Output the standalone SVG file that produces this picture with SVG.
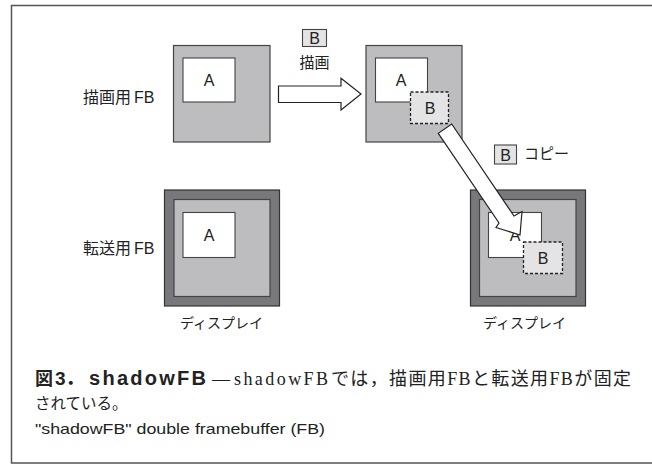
<svg xmlns="http://www.w3.org/2000/svg" width="652" height="468" viewBox="0 0 652 468">
<style>
.bg{fill:#ffffff}
.frame{fill:none;stroke:#555;stroke-width:1.5}
.fb{fill:#bdbdbf;stroke:#444;stroke-width:1.2}
.disp{fill:#78787a;stroke:#333;stroke-width:1.2}
.win{fill:#ffffff;stroke:#444;stroke-width:1.1}
.dash{fill:#e4e4e4;stroke:#222;stroke-width:1.3;stroke-dasharray:3 2}
.tag{fill:#e4e4e4;stroke:#444;stroke-width:1.1}
.arrow{fill:#ffffff;stroke:#222;stroke-width:1.2;stroke-linejoin:miter}
.lbl{font-family:"Liberation Sans","Noto Sans CJK JP",sans-serif;fill:#222}
.cjk{font-family:"Noto Sans CJK JP","Liberation Sans",sans-serif;fill:#222}
.ser{font-family:"Liberation Serif","Noto Sans CJK JP",serif;fill:#222}
</style>
<rect class="bg" x="0" y="0" width="652" height="468"/>
<path class="frame" d="M660,5.5 H11.5 V463 H660"/>

<g id="label-draw-fb"><text class="cjk" x="83" y="103" font-size="16">描画用<tspan class="lbl" dx="3">FB</tspan></text></g>
<g id="label-send-fb"><text class="cjk" x="83" y="254" font-size="16">転送用<tspan class="lbl" dx="3">FB</tspan></text></g>

<g id="fb-draw-left">
<rect class="fb" x="173.5" y="45.5" width="96.5" height="96.5"/>
<rect class="win" x="183" y="58" width="52" height="44"/>
<text class="lbl" x="209" y="86" font-size="16" text-anchor="middle">A</text>
</g>

<g id="fb-draw-right">
<rect class="fb" x="366" y="45.5" width="96" height="96.5"/>
<rect class="win" x="375.5" y="58" width="52" height="44"/>
<text class="lbl" x="401" y="86" font-size="16" text-anchor="middle">A</text>
<rect class="dash" x="410.5" y="92" width="38" height="31.5"/>
<text class="lbl" x="430" y="114" font-size="16" text-anchor="middle">B</text>
</g>

<g id="display-left">
<rect class="disp" x="164.5" y="190" width="115" height="116"/>
<rect class="fb" x="174" y="199.5" width="96" height="97"/>
<rect class="win" x="183" y="212.5" width="52" height="45"/>
<text class="lbl" x="209" y="241" font-size="16" text-anchor="middle">A</text>
<text class="cjk" x="221.5" y="328" font-size="14" text-anchor="middle">ディスプレイ</text>
</g>

<g id="display-right">
<rect class="disp" x="470.5" y="190" width="115" height="116"/>
<rect class="fb" x="479.5" y="199.5" width="96.5" height="97"/>
<rect class="win" x="488.5" y="212.5" width="53" height="45"/>
<text class="lbl" x="515" y="241" font-size="16" text-anchor="middle">A</text>
<rect class="dash" x="523.5" y="242" width="39" height="31.5"/>
<text class="lbl" x="543" y="263.5" font-size="16" text-anchor="middle">B</text>
<text class="cjk" x="524.5" y="328" font-size="14" text-anchor="middle">ディスプレイ</text>
</g>

<g id="connectors">
<polygon class="arrow" points="278.5,86 341,86 341,78.3 361,94 341,110 341,102.5 278.5,102.5"/>
<rect class="tag" x="302.5" y="29.5" width="24" height="17"/>
<text class="lbl" x="314.5" y="43.5" font-size="16" text-anchor="middle">B</text>
<text class="cjk" x="314.5" y="68" font-size="15" text-anchor="middle">描画</text>

<polygon class="arrow" points="451.7,124 514,216 522,211.5 520,235 496,227.5 499,223 438.3,133.3"/>
<rect class="tag" x="494.5" y="145" width="22" height="19"/>
<text class="lbl" x="505.5" y="160.5" font-size="16" text-anchor="middle">B</text>
<text class="cjk" x="524" y="159" font-size="15">コピー</text>
</g>

<g id="caption">
<text class="cjk" x="35" y="385" font-size="18" font-weight="bold">図</text>
<text class="lbl" x="55" y="385" font-size="19" font-weight="bold">3<tspan class="cjk">．</tspan></text>
<text class="lbl" x="89" y="385" font-size="20" font-weight="bold" textLength="117" lengthAdjust="spacing">shadowFB</text>
<text class="ser" x="212" y="385" font-size="18">—</text>
<text class="ser" x="234" y="385" font-size="18" textLength="94" lengthAdjust="spacing">shadowFB</text>
<text class="ser" x="331" y="385" font-size="18" textLength="300" lengthAdjust="spacing">では，描画用FBと転送用FBが固定</text>
<text class="ser" x="35" y="409" font-size="15.5">されている。</text>
<text class="lbl" x="35" y="434" font-size="14.5" textLength="290" lengthAdjust="spacingAndGlyphs">"shadowFB" double framebuffer (FB)</text>
</g>
</svg>
